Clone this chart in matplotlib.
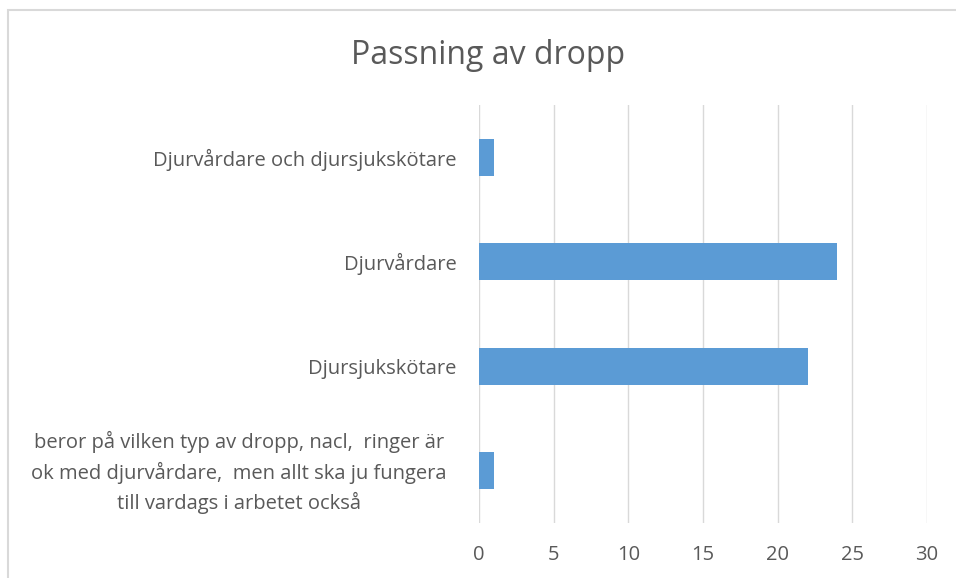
import matplotlib
matplotlib.use("Agg")
import matplotlib.pyplot as plt
import matplotlib.transforms as mtransforms
from matplotlib.patches import Rectangle

categories = [
    "Djurvårdare och djursjukskötare",
    "Djurvårdare",
    "Djursjukskötare",
    "beror på vilken typ av dropp, nacl,  ringer är\nok med djurvårdare,  men allt ska ju fungera\ntill vardags i arbetet också",
]
values = [1, 24, 22, 1]
xticks = [0, 5, 10, 15, 20, 25, 30]

plt.rcParams['font.family'] = ['Open Sans', 'DejaVu Sans']
W, H = 956, 578
fig = plt.figure(figsize=(W / 100, H / 100), dpi=100)
fig.patch.set_facecolor('white')

ax = fig.add_axes([479 / W, 1 - 523 / H, (927 - 479) / W, (523 - 105) / H])
ypos = list(range(len(categories)))
ax.barh(ypos, values, height=0.35, color='#5b9bd5', zorder=3)
ax.set_ylim(len(categories) - 0.5, -0.5)
ax.set_xlim(0, 30)
ax.set_xticks(xticks)
ax.set_xticklabels([str(t) for t in xticks])
ax.set_yticks(ypos)
ax.set_yticklabels(categories, ha='right', multialignment='center', linespacing=1.5)
ax.tick_params(axis='both', length=0, labelsize=14.5, labelcolor='#595959')
ax.tick_params(axis='x', pad=16)
ax.tick_params(axis='y', pad=16)
ax.grid(axis='x', color='#d9d9d9', linewidth=1, zorder=0)
for s in ax.spines.values():
    s.set_visible(False)

# the wrapped label sits slightly further left and higher in the reference
last = ax.get_yticklabels()[-1]
last.set_transform(last.get_transform() +
                   mtransforms.ScaledTranslation(-10 / 100, 5 / 100, fig.dpi_scale_trans))

fig.text(488 / W, 1 - 56 / H, "Passning av dropp", ha='center', va='center',
         fontsize=23, color='#595959')

fig.patches.append(Rectangle((7.5 / W, -0.1), 2.0, 1 - 9.5 / H + 0.1,
                             transform=fig.transFigure, fill=False,
                             edgecolor='#d9d9d9', linewidth=1.5))

fig.savefig("out.png", dpi=100, facecolor='white')
